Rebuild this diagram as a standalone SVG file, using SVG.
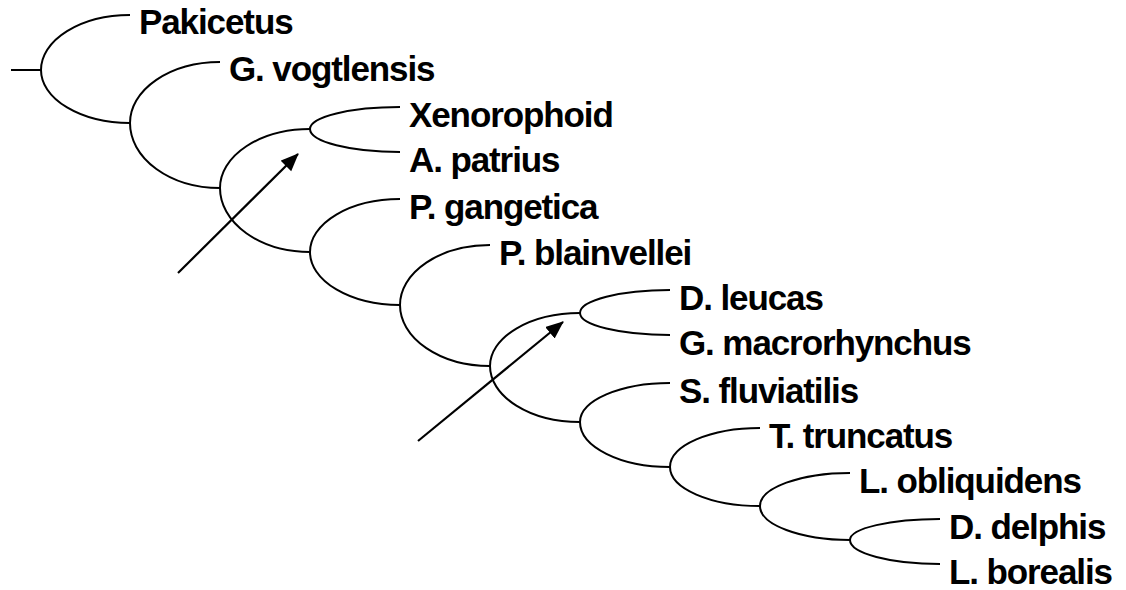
<svg xmlns="http://www.w3.org/2000/svg" width="1126" height="590" viewBox="0 0 1126 590">
<style>
.br{fill:none;stroke:#000;stroke-width:2}
.ar{fill:none;stroke:#000;stroke-width:2.2}
text{font-family:"Liberation Sans",Arial,sans-serif;font-weight:bold;font-size:35px;fill:#000;letter-spacing:-1.1px}
</style>
<defs>
<marker id="ah" markerUnits="userSpaceOnUse" markerWidth="20" markerHeight="16" refX="17" refY="7.5" orient="auto">
<path d="M0,0 L18,7.5 L0,15 z" fill="#000"/>
</marker>
</defs>
<rect width="1126" height="590" fill="#fff"/>
<g id="connectors">
<line class="br" x1="11" y1="70" x2="41" y2="70"/>
<path class="br" d="M130,15 A89,55 0 0 0 41,70 A89,53 0 0 0 130,123"/>
<path class="br" d="M220,62 A90,61 0 0 0 130,123 A90,65 0 0 0 220,188"/>
<path class="br" d="M310,129 A90,59 0 0 0 220,188 A90,64 0 0 0 310,252"/>
<path class="br" d="M400,107 A90,22 0 0 0 310,129 A90,23 0 0 0 400,152"/>
<path class="br" d="M400,199 A90,53 0 0 0 310,252 A90,53 0 0 0 400,305"/>
<path class="br" d="M490,245 A90,60 0 0 0 400,305 A90,61 0 0 0 490,366"/>
<path class="br" d="M580,313 A90,53 0 0 0 490,366 A90,56 0 0 0 580,422"/>
<path class="br" d="M670,290 A90,23 0 0 0 580,313 A90,22 0 0 0 670,335"/>
<path class="br" d="M670,383 A90,39 0 0 0 580,422 A90,45 0 0 0 670,467"/>
<path class="br" d="M760,428 A90,39 0 0 0 670,467 A90,39 0 0 0 760,506"/>
<path class="br" d="M850,473 A90,33 0 0 0 760,506 A90,34 0 0 0 850,540"/>
<path class="br" d="M940,519 A90,21 0 0 0 850,540 A90,24 0 0 0 940,564"/>
<line class="ar" x1="178" y1="273" x2="298" y2="154" marker-end="url(#ah)"/>
<line class="ar" x1="418" y1="441" x2="563" y2="322" marker-end="url(#ah)"/>
</g>
<g id="n-pakicetus"><text x="139" y="34">Pakicetus</text></g>
<g id="n-vogtlensis"><text x="229" y="81">G. vogtlensis</text></g>
<g id="n-xenorophoid"><text x="409" y="127">Xenorophoid</text></g>
<g id="n-patrius"><text x="409" y="172">A. patrius</text></g>
<g id="n-gangetica"><text x="409" y="219">P. gangetica</text></g>
<g id="n-blainvellei"><text x="499" y="265">P. blainvellei</text></g>
<g id="n-leucas"><text x="679" y="310">D. leucas</text></g>
<g id="n-macrorhynchus"><text x="679" y="355">G. macrorhynchus</text></g>
<g id="n-fluviatilis"><text x="679" y="403">S. fluviatilis</text></g>
<g id="n-truncatus"><text x="769" y="448">T. truncatus</text></g>
<g id="n-obliquidens"><text x="859" y="493">L. obliquidens</text></g>
<g id="n-delphis"><text x="949" y="539">D. delphis</text></g>
<g id="n-borealis"><text x="949" y="584">L. borealis</text></g>
</svg>
